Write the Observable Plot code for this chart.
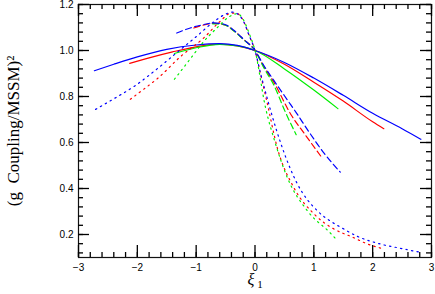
<!DOCTYPE html>
<html><head><meta charset="utf-8">
<script src="https://cdn.jsdelivr.net/npm/d3@7"></script>
<script src="https://cdn.jsdelivr.net/npm/@observablehq/plot@0.6"></script>
<style>body{margin:0;background:#fff}</style>
</head><body><div id="chart"></div>
<script>
// tick values
const xTicks = [-3, -2, -1, 0, 1, 2, 3];
const yTicks = [0.2, 0.4, 0.6, 0.8, 1.0, 1.2];
const xMinor = d3.range(-3, 3.001, 0.2).map(v => +v.toFixed(2));
const yMinor = d3.range(0.12, 1.201, 0.04).map(v => +v.toFixed(2));

// series: [xi1, coupling ratio]
const solidBlue = [[-2.73,0.912],[-2.4,0.94],[-2.0,0.972],[-1.5,1.005],[-1.0,1.024],[-0.6,1.03],[-0.3,1.022],[0,1.0],[0.5,0.948],[1.0,0.88],[1.5,0.805],[2.0,0.727],[2.5,0.66],[2.82,0.614]];
const solidRed = [[-2.13,0.944],[-1.8,0.968],[-1.4,0.994],[-1.0,1.016],[-0.6,1.028],[-0.3,1.02],[0,1.0],[0.5,0.94],[1.0,0.862],[1.5,0.78],[2.0,0.69],[2.19,0.66]];
const solidGreen = [[-1.37,0.987],[-1.0,1.012],[-0.6,1.027],[-0.3,1.02],[0,1.0],[0.5,0.92],[1.0,0.828],[1.41,0.747]];

const dashBlue = [[-1.33,1.076],[-1.1,1.098],[-0.92,1.11],[-0.7,1.12],[-0.5,1.112],[-0.36,1.088],[-0.2,1.05],[0,1.0],[0.15,0.935],[0.32,0.87],[0.55,0.785],[0.7,0.73],[0.92,0.645],[1.17,0.555],[1.45,0.471]];
const dashRed = [[-1.04,1.098],[-0.85,1.112],[-0.68,1.118],[-0.5,1.11],[-0.36,1.086],[-0.2,1.05],[0,1.0],[0.15,0.93],[0.32,0.862],[0.61,0.722],[0.85,0.635],[1.12,0.54]];
const dashGreen = [[-0.72,1.116],[-0.55,1.114],[-0.36,1.085],[-0.2,1.048],[0,1.0],[0.15,0.925],[0.32,0.85],[0.52,0.73],[0.7,0.634]];

const dotBlue = [[-2.71,0.744],[-2.4,0.79],[-2.06,0.843],[-1.64,0.925],[-1.38,0.98],[-1.0,1.06],[-0.7,1.125],[-0.5,1.158],[-0.38,1.167],[-0.3,1.16],[-0.19,1.124],[-0.1,1.066],[0,1.0],[0.1,0.895],[0.21,0.79],[0.27,0.735],[0.44,0.595],[0.72,0.42],[1.06,0.303],[1.32,0.252],[1.46,0.231],[1.74,0.192],[2.11,0.16],[2.51,0.138],[2.82,0.122]];
const dotRed = [[-2.12,0.788],[-1.9,0.83],[-1.64,0.882],[-1.26,0.975],[-0.87,1.055],[-0.6,1.125],[-0.4,1.163],[-0.3,1.16],[-0.19,1.125],[-0.1,1.065],[0,1.0],[0.1,0.89],[0.2,0.78],[0.38,0.576],[0.66,0.404],[1.0,0.29],[1.32,0.227],[1.66,0.188],[1.91,0.159],[2.19,0.137]];
const dotGreen = [[-1.37,0.875],[-1.18,0.937],[-1.01,0.994],[-0.92,1.024],[-0.64,1.1],[-0.45,1.145],[-0.3,1.16],[-0.2,1.135],[-0.1,1.075],[0,1.0],[0.18,0.75],[0.33,0.61],[0.55,0.447],[0.89,0.303],[1.29,0.204],[1.4,0.173]];

const styles = {solid: null, dash: "6,3.5", dot: "1.4,4.2"};
const series = [
  [solidRed, "#ff0000", "solid"], [solidGreen, "#00ee00", "solid"], [solidBlue, "#0000ff", "solid"],
  [dashRed, "#ff0000", "dash"], [dashGreen, "#00ee00", "dash"], [dashBlue, "#0000ff", "dash"],
  [dotRed, "#ff0000", "dot"], [dotGreen, "#00ee00", "dot"], [dotBlue, "#0000ff", "dot"]
];

const W = 435, H = 294, mt = 4, mb = 37, ml = 78, mr = 4;
const fh = H - mt - mb, fw = W - ml - mr;
const tickCol = "#000";
const tw = 1.3;

const lineMarks = series.map(([pts, color, st]) =>
  Plot.line(pts, {x: d => d[0], y: d => d[1], stroke: color, strokeWidth: 1.2,
    strokeDasharray: styles[st], curve: "monotone-x"}));

// inward ticks on all four sides (rules shortened with insets)
const tickMarks = [
  Plot.ruleX(xTicks, {x: d => d, insetTop: fh - 12, stroke: tickCol, strokeWidth: tw}),
  Plot.ruleX(xTicks, {x: d => d, insetBottom: fh - 12, stroke: tickCol, strokeWidth: tw}),
  Plot.ruleX(xMinor, {x: d => d, insetTop: fh - 5, stroke: tickCol, strokeWidth: tw}),
  Plot.ruleX(xMinor, {x: d => d, insetBottom: fh - 5, stroke: tickCol, strokeWidth: tw}),
  Plot.ruleY(yTicks, {y: d => d, insetRight: fw - 11, stroke: tickCol, strokeWidth: tw}),
  Plot.ruleY(yTicks, {y: d => d, insetLeft: fw - 11, stroke: tickCol, strokeWidth: tw}),
  Plot.ruleY(yMinor, {y: d => d, insetRight: fw - 5, stroke: tickCol, strokeWidth: tw}),
  Plot.ruleY(yMinor, {y: d => d, insetLeft: fw - 5, stroke: tickCol, strokeWidth: tw})
];

const chart = Plot.plot({
  width: W, height: H,
  marginTop: mt, marginBottom: mb, marginLeft: ml, marginRight: mr,
  style: {fontFamily: "'Liberation Sans', Arial, sans-serif", fontSize: "10px", color: "#000"},
  x: {domain: [-3, 3]},
  y: {domain: [0.1, 1.2]},
  marks: [
    ...lineMarks,
    Plot.frame({stroke: "#111", strokeWidth: 1.2}),
    Plot.axisX({ticks: xTicks, tickSize: 0, tickPadding: 6, label: null,
      tickFormat: d => d < 0 ? "\u2212" + Math.abs(d) : String(d)}),
    Plot.axisY({ticks: yTicks, tickSize: 0, tickPadding: 5, label: null,
      tickFormat: d3.format(".1f")}),
    Plot.text(["(g\u00a0 Coupling/MSSM)\u00b2"], {text: d => d, frameAnchor: "left", textAnchor: "middle",
      dx: -65, rotate: -90, fontSize: 17, fontFamily: "'Liberation Serif', 'Times New Roman', serif"}),
    Plot.text(["\u03be"], {text: d => d, frameAnchor: "bottom", dy: 27, dx: -4,
      fontSize: 16, fontStyle: "italic", fontFamily: "'Liberation Serif', 'DejaVu Serif', serif"}),
    Plot.text(["1"], {text: d => d, frameAnchor: "bottom", dy: 30, dx: 5,
      fontSize: 11, fontFamily: "'Liberation Serif', 'DejaVu Serif', serif"}),
    ...tickMarks
  ]
});
document.getElementById("chart").appendChild(chart);
</script>
</body></html>
